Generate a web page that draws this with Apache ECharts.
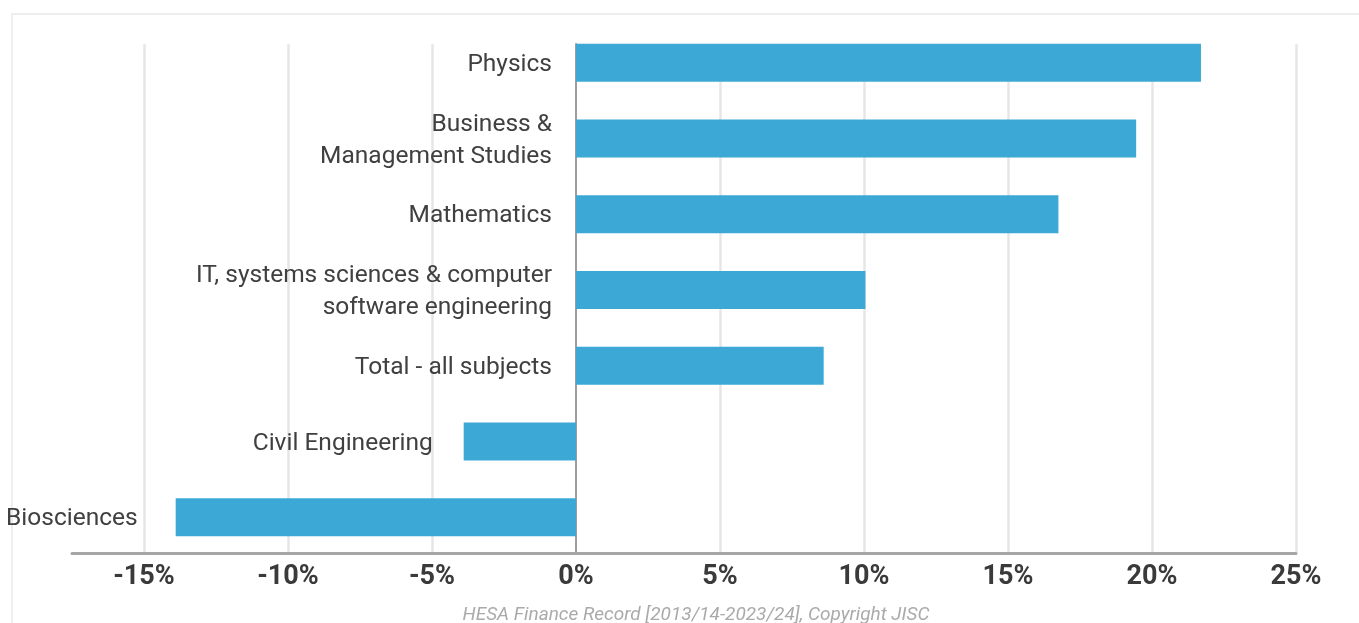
<!DOCTYPE html>
<html>
<head>
<meta charset="utf-8">
<script src="https://cdn.jsdelivr.net/npm/echarts@6/dist/echarts.min.js"></script>
<style>
  html, body { margin: 0; padding: 0; background: #ffffff; }
  #chart { width: 1359px; height: 623px; }
</style>
</head>
<body>
<div id="chart"></div>
<script>
// ---- data ----
const categories = [
  'Physics',
  'Business &\nManagement Studies',
  'Mathematics',
  'IT, systems sciences & computer\nsoftware engineering',
  'Total - all subjects',
  'Civil Engineering',
  'Biosciences'
];
const changePct = [21.7, 19.45, 16.75, 10.05, 8.6, -3.9, -13.9];
const tickValues = [-15, -10, -5, 0, 5, 10, 15, 20, 25];
const sourceText = 'HESA Finance Record [2013/14-2023/24], Copyright JISC';

// ---- chart ----
const chart = echarts.init(document.getElementById('chart'));
const FONT = 'Roboto';
const labelGap = { 'Civil Engineering': 31, 'Biosciences': 38 };

const barData = changePct.map((v, i) => ({
  value: v,
  label: { distance: labelGap[categories[i]] !== undefined ? labelGap[categories[i]] : 24 }
}));

const option = {
  backgroundColor: '#ffffff',
  animation: false,
  grid: [
    { left: 72, right: 63, top: 25, height: 530 },
    { left: 72, right: 63, top: 44, height: 509 }
  ],
  xAxis: [
    { type: 'value', gridIndex: 0, min: -17.5, max: 25, show: false },
    {
      type: 'value', gridIndex: 1, min: -17.5, max: 25,
      axisLine: { show: true, onZero: false, lineStyle: { color: '#a6a6a6', width: 3 } },
      axisTick: { show: false, customValues: tickValues.filter(v => v !== 0) },
      axisLabel: {
        customValues: tickValues,
        formatter: '{value}%',
        color: '#3a3a3a',
        fontFamily: FONT,
        fontWeight: 'bold',
        fontSize: 27,
        margin: 11
      },
      splitLine: { show: true, lineStyle: { color: '#e6e6e6', width: 2.5 } }
    }
  ],
  yAxis: [
    { type: 'category', gridIndex: 0, data: categories, inverse: true, show: false },
    {
      type: 'value', gridIndex: 1, min: 0, max: 1,
      axisLine: { show: true, onZero: true, lineStyle: { color: '#9e9e9e', width: 2 } },
      axisTick: { show: false }, axisLabel: { show: false }, splitLine: { show: false }
    }
  ],
  series: [{
    type: 'bar',
    xAxisIndex: 0,
    yAxisIndex: 0,
    data: barData,
    barWidth: 38,
    itemStyle: { color: '#3ca8d6' },
    label: {
      show: true,
      position: 'left',
      formatter: (p) => categories[p.dataIndex],
      color: '#404040',
      fontFamily: FONT,
      fontSize: 24.5,
      lineHeight: 32,
      align: 'right',
      offset: [0, 2]
    }
  }],
  graphic: [
    {
      type: 'rect', silent: true, z: -10,
      shape: { x: 12, y: 14, width: 1400, height: 700 },
      style: { fill: 'none', stroke: '#eeeeee', lineWidth: 2 }
    },
    {
      type: 'text', silent: true,
      x: 696, y: 615,
      style: {
        text: sourceText,
        fill: '#aaaaaa',
        font: 'italic 19px Roboto',
        textAlign: 'center',
        textVerticalAlign: 'middle'
      }
    }
  ]
};
chart.setOption(option);
</script>
</body>
</html>
